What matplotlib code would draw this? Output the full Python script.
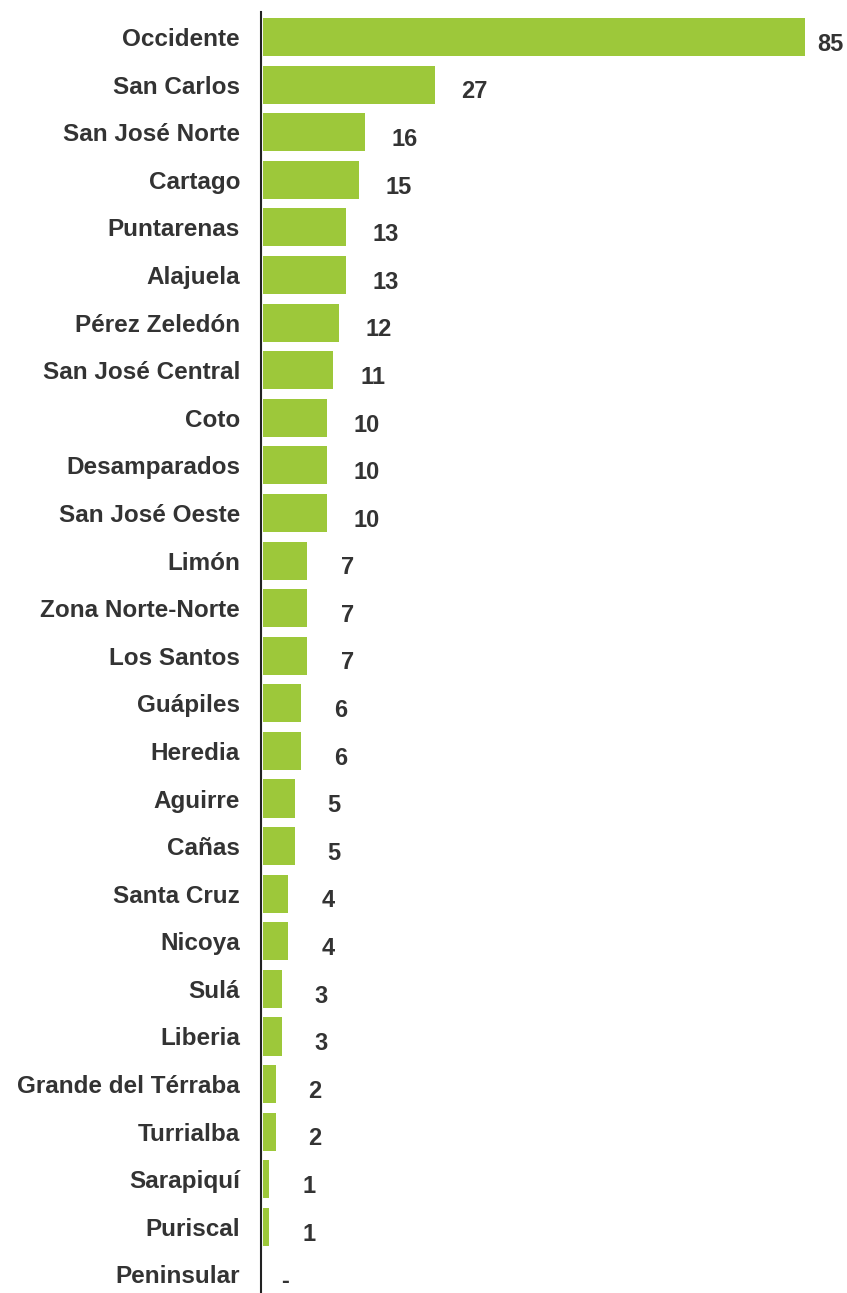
import numpy as np
import matplotlib.pyplot as plt

plt.rcParams['font.family'] = ['Liberation Sans', 'DejaVu Sans']

regions = ['Occidente', 'San Carlos', 'San José Norte', 'Cartago', 'Puntarenas',
           'Alajuela', 'Pérez Zeledón', 'San José Central', 'Coto', 'Desamparados',
           'San José Oeste', 'Limón', 'Zona Norte-Norte', 'Los Santos', 'Guápiles',
           'Heredia', 'Aguirre', 'Cañas', 'Santa Cruz', 'Nicoya', 'Sulá', 'Liberia',
           'Grande del Térraba', 'Turrialba', 'Sarapiquí', 'Puriscal', 'Peninsular']
values = [85, 27, 16, 15, 13, 13, 12, 11, 10, 10, 10, 7, 7, 7, 6, 6, 5, 5, 4, 4,
          3, 3, 2, 2, 1, 1, 0]
labels = ['85', '27', '16', '15', '13', '13', '12', '11', '10', '10', '10', '7', '7',
          '7', '6', '6', '5', '5', '4', '4', '3', '3', '2', '2', '1', '1', '-']

BAR_COLOR = '#9dc83a'
TEXT_COLOR = '#333333'

fig = plt.figure(figsize=(8.47, 12.93), dpi=100)
ax = fig.add_axes([0.308, 0.0, 0.692, 0.9907])

y = np.arange(len(regions))
ax.barh(y, values, height=0.8, color=BAR_COLOR, left=0.3)

for yi, v, lab in zip(y, values, labels):
    xpos = min(v + 6.5, 89.2)
    if v == 0:
        xpos = 3.8
    ax.text(xpos, yi + 0.1, lab, ha='center', va='center_baseline', fontsize=17,
            fontweight='bold', color=TEXT_COLOR)

ax.set_xlim(0, 91.8)
ax.set_ylim(26.39, -0.525)
ax.set_yticks(y)
ax.set_yticklabels(regions, fontsize=17.5, fontweight='bold', color=TEXT_COLOR)
ax.tick_params(axis='y', length=0, pad=15)
ax.set_xticks([])

for side in ['top', 'right', 'bottom']:
    ax.spines[side].set_visible(False)
ax.spines['left'].set_color('#222222')
ax.spines['left'].set_linewidth(1.5)

fig.savefig('out.png', dpi=100)
